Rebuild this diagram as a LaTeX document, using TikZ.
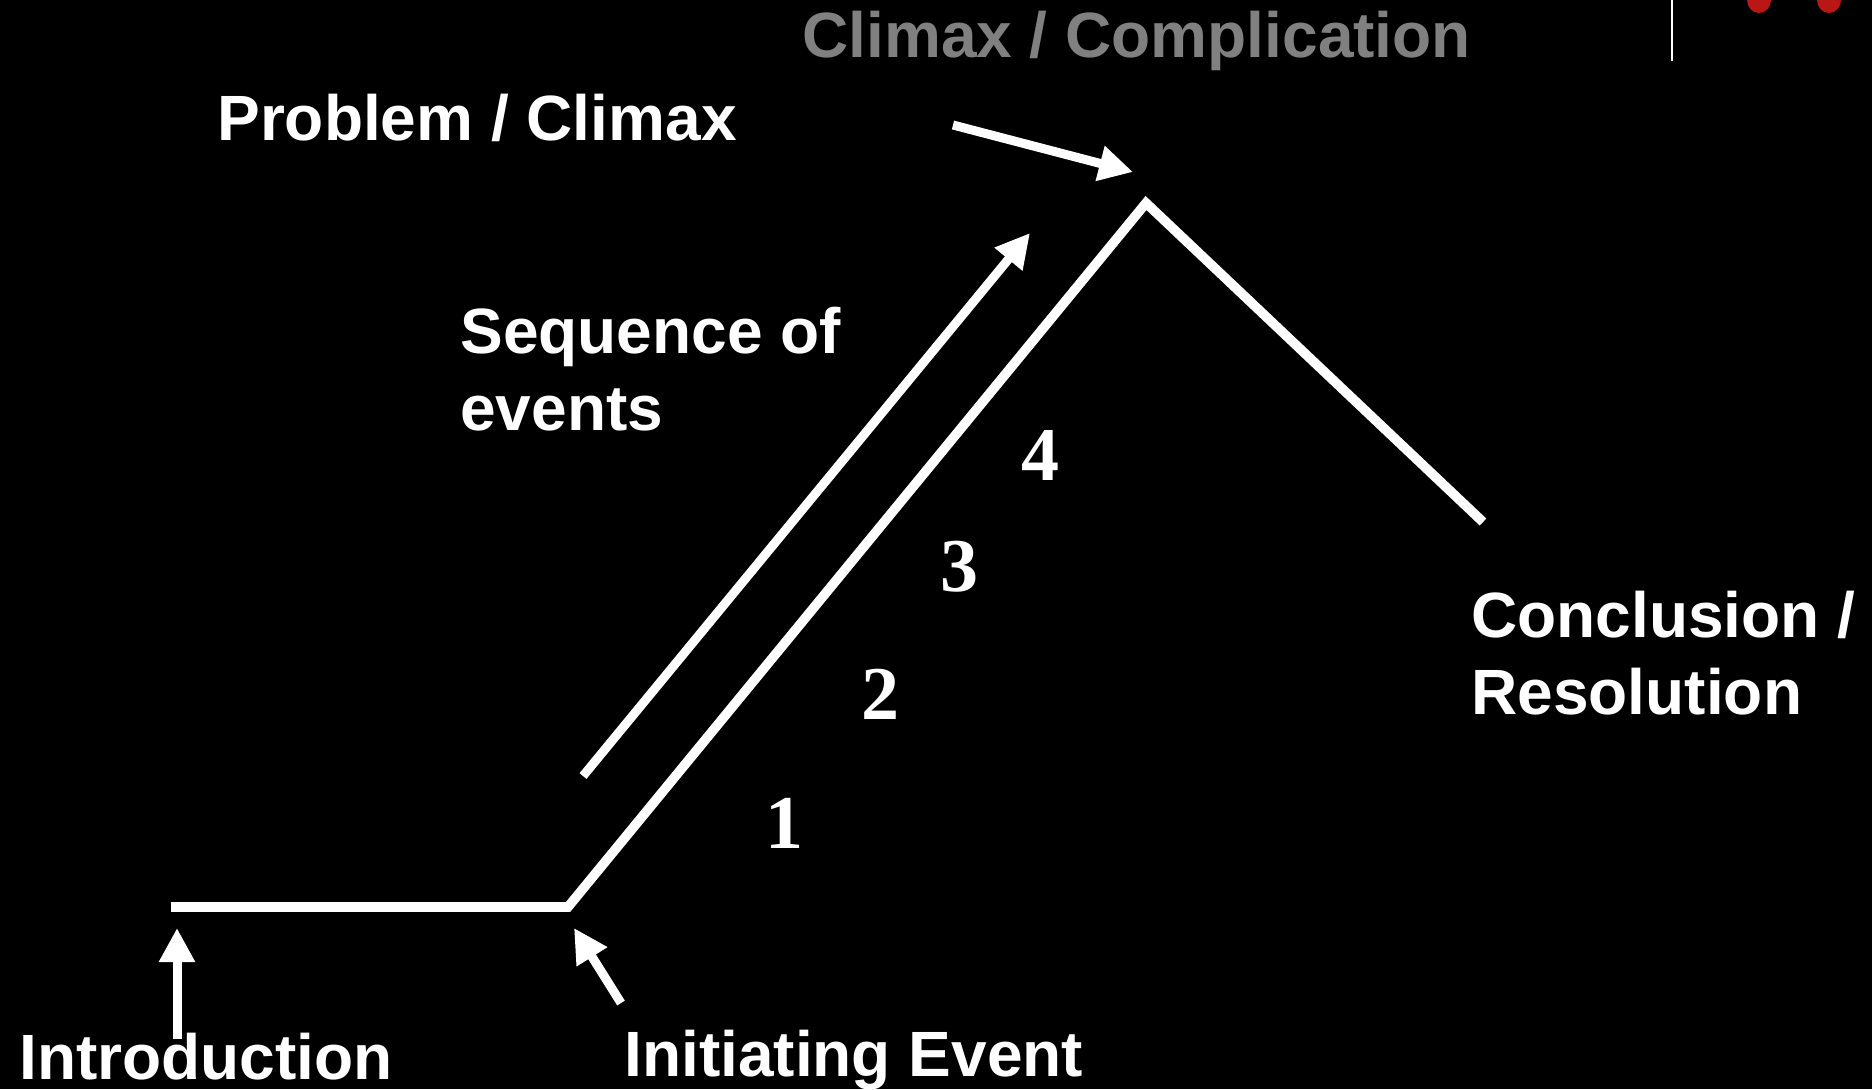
\documentclass[tikz,border=0pt]{standalone}
\usepackage{fontspec}
\setmainfont{Liberation Serif}
\setsansfont{Liberation Sans}
\usetikzlibrary{arrows.meta}
\definecolor{titlegray}{RGB}{128,128,128}
\definecolor{dotred}{RGB}{185,22,22}

\begin{document}
\begin{tikzpicture}[
    x=0.5pt, y=-0.5pt,
    label/.style={text=white, font=\sffamily\bfseries\fontsize{32}{38.5}\selectfont, inner sep=0pt, anchor=base west, align=left},
    num/.style={text=white, font=\rmfamily\bfseries\fontsize{38}{40}\selectfont, inner sep=0pt, anchor=base},
    plotline/.style={draw=white, line width=4.8pt},
    arrow/.style={-{Triangle[length=17pt, width=17pt]}, draw=white, line width=4.5pt}
]

\useasboundingbox (0,0) rectangle (1872,1089);
\fill[black] (0,0) rectangle (1872,1089);

% corner marks
\draw[white, line width=1pt] (1672,0) -- (1672,61);
\fill[dotred] (1759,0) ellipse [x radius=12, y radius=13];
\fill[dotred] (1829,0) ellipse [x radius=12, y radius=13];

\coordinate (introstart) at (171,907);
\coordinate (initev) at (568,907);
\coordinate (peak) at (1146,203);
\coordinate (resend) at (1483,522);

\draw[plotline] (introstart) -- (initev) -- (peak) -- (resend);

% base of a two-line label is its last line
\node[label, text=titlegray] (title) at (802,57) {Climax / Complication};
\node[label] (problem) at (217,140) {Problem / Climax};
\node[label] (sequence) at (460,430) {Sequence of\\events};
\node[label] (conclusion) at (1471,714) {Conclusion /\\Resolution};
\node[label] (intro) at (19,1079) {Introduction};
\node[label] (initiating) at (624,1076) {Initiating Event};

\node[num] (one) at (784,848) {1};
\node[num] (two) at (880,719) {2};
\node[num] (three) at (959,591) {3};
\node[num] (four) at (1040,480) {4};

\coordinate (probtail) at (953,125);
\coordinate (probtip) at (1133,172);
\coordinate (seqtail) at (583,776);
\coordinate (seqtip) at (1030,233);
\coordinate (introtail) at (177,1039);
\coordinate (introtip) at (177,928);
\coordinate (inittail) at (621,1003);
\coordinate (inittip) at (574,928);

\draw[arrow] (probtail) -- (probtip);
\draw[arrow] (seqtail) -- (seqtip);
\draw[arrow] (introtail) -- (introtip);
\draw[arrow] (inittail) -- (inittip);

\end{tikzpicture}
\end{document}
